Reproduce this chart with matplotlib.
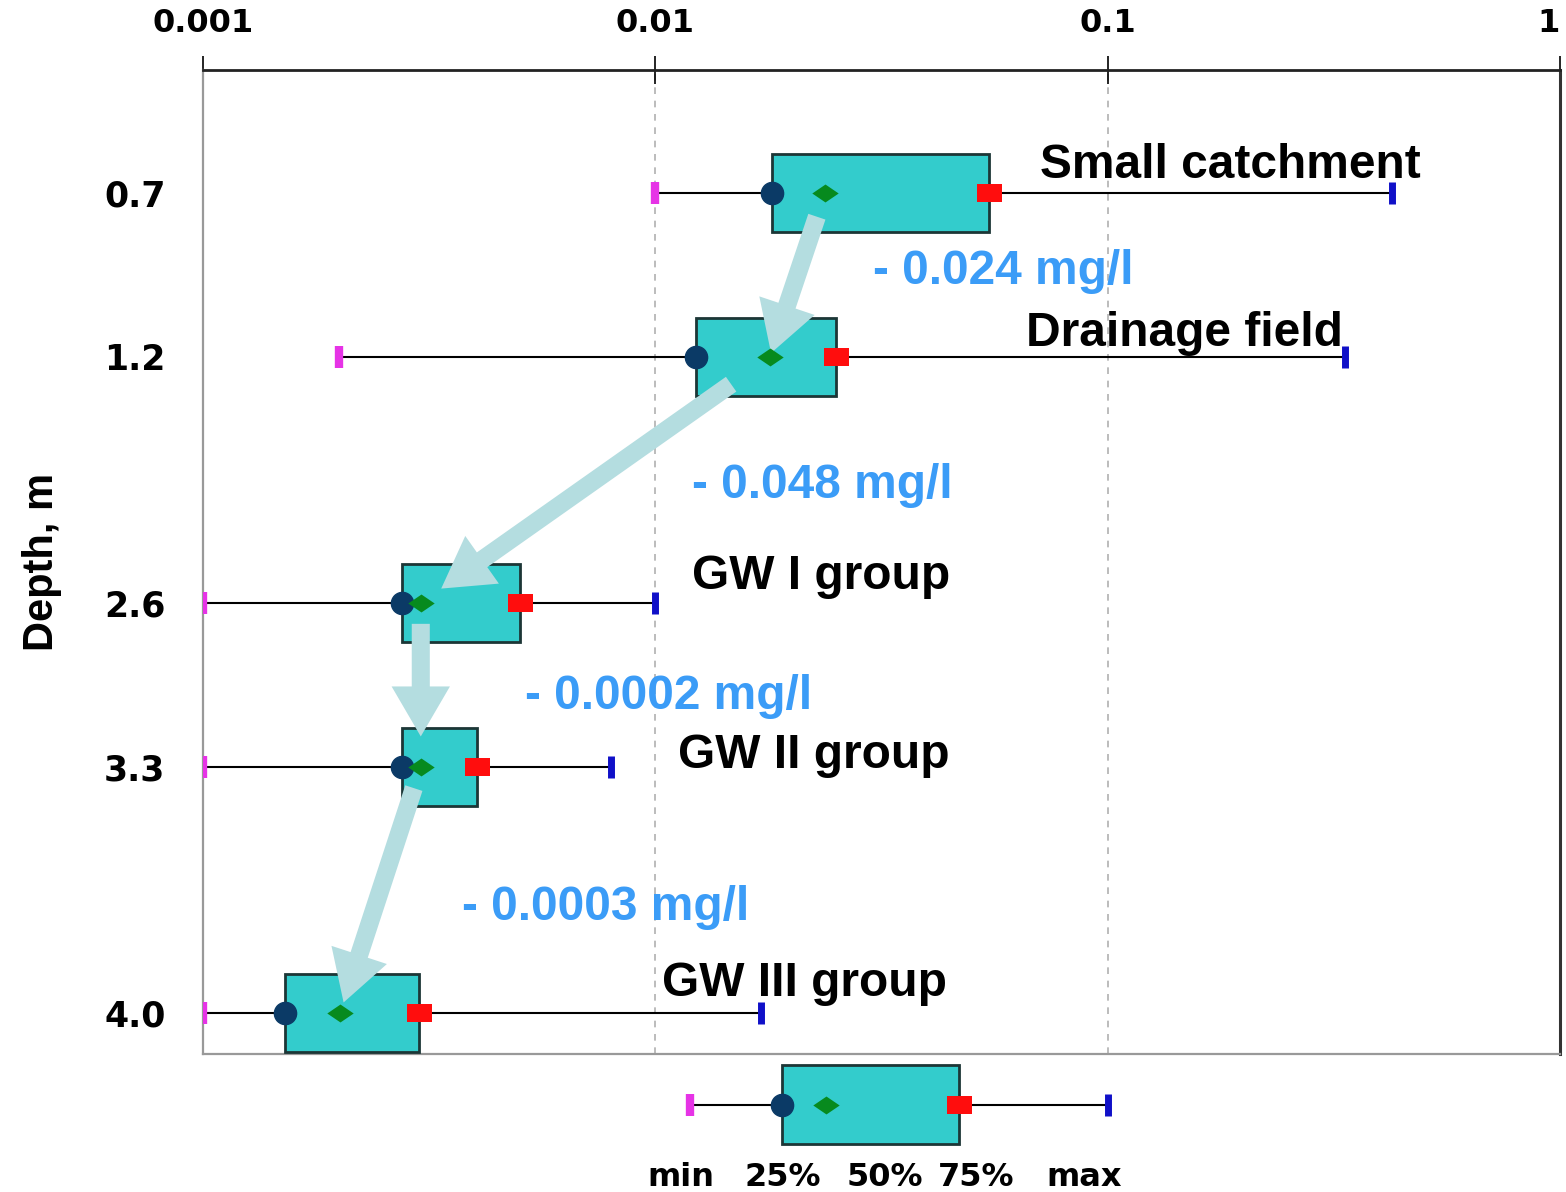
import matplotlib
matplotlib.use('Agg')
import matplotlib.pyplot as plt
from matplotlib.patches import Rectangle

# data (concentration, mg/l)
depth_labels = ["0.7", "1.2", "2.6", "3.3", "4.0"]
group_names = ["Small catchment", "Drainage field", "GW I group", "GW II group", "GW III group"]
v_min = [0.010, 0.0020, 0.0010, 0.0010, 0.0010]
v_q1 = [0.0181, 0.0123, 0.00276, 0.00275, 0.00152]
v_med = [0.0237, 0.0179, 0.00303, 0.00303, 0.00201]
v_q3 = [0.0546, 0.0251, 0.00501, 0.00403, 0.0030]
v_max = [0.426, 0.335, 0.010, 0.0080, 0.0171]
drops = ["- 0.024 mg/l", "- 0.048 mg/l", "- 0.0002 mg/l", "- 0.0003 mg/l"]

# legend key box
key_vals = [0.0119, 0.0191, 0.0239, 0.0469, 0.1]
key_labels = ["min", "25%", "50%", "75%", "max"]

# layout (row positions in axis units, 0 at top)
row_pos = [1.5, 3.5, 6.5, 8.5, 11.5]
key_pos = 12.62
half_h = 0.48

fig = plt.figure(figsize=(15.66, 11.92), dpi=100)
ax = fig.add_axes([203 / 1566, 1 - 1054 / 1192, 1357 / 1566, 984 / 1192])
ax.set_xscale('log')
ax.set_xlim(0.001, 1)
ax.set_ylim(12, 0)

ax.xaxis.tick_top()
ax.set_xticks([0.001, 0.01, 0.1, 1])
ax.set_xticklabels(["0.001", "0.01", "0.1", "1"])
ax.xaxis.set_minor_locator(matplotlib.ticker.NullLocator())
ax.tick_params(axis='x', direction='inout', length=20, width=1.2, pad=12,
               labelsize=23, colors='black')
for lab in ax.get_xticklabels():
    lab.set_fontweight('bold')
ax.get_xticklabels()[-1].set_horizontalalignment('right')
ax.set_yticks(row_pos)
ax.set_yticklabels(depth_labels, fontsize=25, fontweight='bold')
ax.tick_params(axis='y', length=0, pad=27)
ax.set_ylabel("Depth, m", fontsize=30, fontweight='bold',
              family='Liberation Sans', labelpad=30)

for x in [0.01, 0.1]:
    ax.axvline(x, color='#b0b0b0', lw=1.2, ls=(0, (4, 4)), zorder=0)

ax.spines['top'].set_linewidth(2)
ax.spines['top'].set_color('#222222')
ax.spines['right'].set_linewidth(2.2)
ax.spines['right'].set_color('#333333')
ax.spines['left'].set_color('#999999')
ax.spines['left'].set_linewidth(1.6)
ax.spines['bottom'].set_color('#999999')
ax.spines['bottom'].set_linewidth(1.6)

diamond = [(-1, 0), (0, 0.68), (1, 0), (0, -0.68)]
rect = [(-1, -0.7), (1, -0.7), (1, 0.7), (-1, 0.7)]


def draw_box(y, mn, q1, med, q3, mx, clip=True):
    ax.plot([mn, mx], [y, y], color='black', lw=1.5, zorder=2, clip_on=clip)
    ax.add_patch(Rectangle((q1, y - half_h), q3 - q1, 2 * half_h,
                           facecolor='#33cccc', edgecolor='#1c3636',
                           lw=2, zorder=3, clip_on=clip))
    ax.plot(mn, y, marker='|', ms=16, mew=6, color='#e633e6', zorder=6, clip_on=clip)
    ax.plot(mx, y, marker='|', ms=16, mew=5, color='#1010c8', zorder=6, clip_on=clip)
    ax.plot(q1, y, marker='o', ms=16, color='#0b3a66', zorder=6, clip_on=clip)
    ax.plot(med, y, marker=diamond, ms=19, color='#078a1e', mew=0, zorder=6, clip_on=clip)
    ax.plot(q3, y, marker=rect, ms=18, color='#ff0d0d', mew=0, zorder=6, clip_on=clip)


for i in range(len(depth_labels)):
    draw_box(row_pos[i], v_min[i], v_q1[i], v_med[i], v_q3[i], v_max[i])

draw_box(key_pos, *key_vals, clip=False)

# arrows between medians of consecutive rows
shrinks = [(18, 3), (34, 18), (15, 22), (16, 8)]
for i in range(len(drops)):
    ax.annotate("", xy=(v_med[i + 1], row_pos[i + 1]), xytext=(v_med[i], row_pos[i]),
                arrowprops=dict(arrowstyle="simple,head_width=2.1,head_length=1.8,tail_width=0.65",
                                mutation_scale=20, color='#b4dde0', lw=0,
                                shrinkA=shrinks[i][0], shrinkB=shrinks[i][1]),
                zorder=5)

# group labels and concentration drops (left px, centre px)
name_pos = [(1040, 166), (1026, 333), (692, 576), (678, 756), (662, 984)]
drop_pos = [(873, 272), (692, 485), (525, 696), (462, 907)]


def px_to_axes(px, py):
    return (px - 203) / 1357, 1 - (py - 70) / 984


for name, (px, py) in zip(group_names, name_pos):
    xa, ya = px_to_axes(px, py)
    ax.text(xa, ya, name, transform=ax.transAxes, ha='left', va='center',
            fontsize=34.5, fontweight='bold', family='Liberation Sans', color='black', zorder=7)
for txt, (px, py) in zip(drops, drop_pos):
    xa, ya = px_to_axes(px, py)
    ax.text(xa, ya, txt, transform=ax.transAxes, ha='left', va='center',
            fontsize=34.5, fontweight='bold', family='Liberation Sans', color='#3b9cf7', zorder=7)

key_text_x = [681, 783, 885, 976, 1084]
for lab, px in zip(key_labels, key_text_x):
    xa, ya = px_to_axes(px, 1177)
    ax.text(xa, ya, lab, transform=ax.transAxes, ha='center', va='center',
            fontsize=23, fontweight='bold', color='black', clip_on=False)

fig.savefig("out.png", dpi=100, facecolor='white')
